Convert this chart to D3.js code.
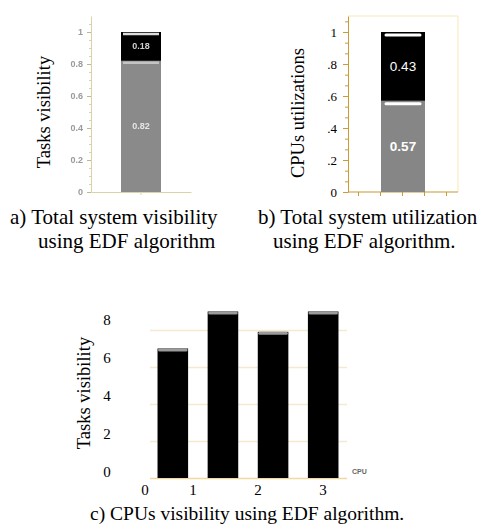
<!DOCTYPE html>
<html>
<head>
<meta charset="utf-8">
<script src="https://cdn.jsdelivr.net/npm/d3@7"></script>
<style>
    body { margin: 0; background: #fff; }
    svg { display: block; }
    .serif { font-family: 'Liberation Serif', 'Times New Roman', Times, 'DejaVu Serif', serif; }
    .sans { font-family: 'Liberation Sans', Arial, Helvetica, sans-serif; }
</style>
</head>
<body>
<svg id="chart" width="483" height="528"></svg>
<script>
// a) total system visibility (stacked, bottom to top)
const visKeys = ['visible', 'hidden'];
const visValues = [0.82, 0.18];
const visLabels = ['0.82', '0.18'];
const visTicks = [0, 0.2, 0.4, 0.6, 0.8, 1];
const visTickLabels = ['0', '0.2', '0.4', '0.6', '0.8', '1'];

// b) total system utilization (stacked, bottom to top)
const utilKeys = ['busy', 'idle'];
const utilValues = [0.57, 0.43];
const utilLabels = ['0.57', '0.43'];
const utilTicks = [0, 0.2, 0.4, 0.6, 0.8, 1];
const utilTickLabels = ['0', '.2', '.4', '.6', '.8', '1'];

// c) visibility per CPU
const cpus = ['cpu1', 'cpu2', 'cpu3', 'cpu4'];
const cpuVisibility = [7.0, 9.0, 7.9, 9.0];
const cpuTicks = [0, 2, 4, 6, 8];
const cpuXLabels = [0, 1, 2, 3];

const svg = d3.select('#chart');
svg.append('defs').append('filter')
    .attr('id', 'soft')
    .append('feGaussianBlur')
    .attr('stdDeviation', 0.55);

// cumulative stack helper
const stackOf = values => {
    const ends = Array.from(d3.cumsum(values));
    return values.map((v, i) => ({start: ends[i] - v, end: ends[i], i}));
};

//----- chart a -----
function drawA() {
    const g = svg.append('g').attr('filter', 'url(#soft)');
    const x = d3.scaleBand().domain(['EDF']).range([91, 191]).paddingInner(0).paddingOuter(0.75);
    const y = d3.scaleLinear().domain([0, 1.1]).range([192, 16]);
    const axisColor = '#d9d3a9';

    // minor ticks
    g.append('g')
        .attr('transform', 'translate(91,0)')
        .call(d3.axisLeft(y).tickValues(d3.range(0, 1.1, 0.05)).tickSize(2).tickSizeOuter(0).tickFormat(''))
        .call(a => a.selectAll('line,path').attr('stroke', axisColor));
    g.append('g')
        .attr('transform', 'translate(91,0)')
        .call(d3.axisLeft(y).tickValues(visTicks).tickSize(4).tickSizeOuter(0)
            .tickFormat((d, i) => visTickLabels[i]))
        .call(a => a.select('.domain').remove())
        .call(a => a.selectAll('line').attr('stroke', '#bdb88f'))
        .call(a => a.selectAll('text').attr('fill', '#9a9a9a').attr('font-family', null).attr('class', 'sans')
            .attr('font-size', 9).attr('font-weight', 'bold').attr('x', -8));
    g.append('g')
        .attr('transform', `translate(0,${y(0)})`)
        .call(d3.axisBottom(x).tickSize(3).tickSizeOuter(0).tickFormat(''))
        .call(a => a.selectAll('line,path').attr('stroke', axisColor));

    const colors = ['#8a8a8a', '#000'];
    const stripes = ['#c4c4c4', '#dcdcdc'];
    const segs = stackOf(visValues);
    g.selectAll('rect.seg').data(segs).enter().append('rect')
        .attr('class', 'seg')
        .attr('x', x('EDF'))
        .attr('y', d => y(d.end))
        .attr('width', x.bandwidth())
        .attr('height', d => y(d.start) - y(d.end))
        .attr('fill', d => colors[d.i]);
    g.selectAll('line.stripe').data(segs).enter().append('line')
        .attr('x1', x('EDF') + 2)
        .attr('x2', x('EDF') + x.bandwidth() - 2)
        .attr('y1', d => y(d.end) + 2)
        .attr('y2', d => y(d.end) + 2)
        .attr('stroke', d => stripes[d.i])
        .attr('stroke-width', 2.5);
    g.selectAll('text.val').data(segs).enter().append('text')
        .attr('class', 'sans')
        .attr('x', x('EDF') + x.bandwidth() / 2)
        .attr('y', d => y((d.start + d.end) / 2) + 3)
        .attr('text-anchor', 'middle')
        .attr('font-size', 9)
        .attr('font-weight', 'bold')
        .attr('fill', d => d.i === 0 ? '#e6e6e6' : '#d0d0d0')
        .text(d => visLabels[d.i]);

    svg.append('text')
        .attr('class', 'serif')
        .attr('transform', 'translate(50,112) rotate(-90)')
        .attr('text-anchor', 'middle')
        .attr('font-size', 18.5)
        .text('Tasks visibility');
}

//----- chart b -----
function drawB() {
    const g = svg.append('g');
    const x = d3.scaleBand().domain(['EDF']).range([348, 458]).paddingInner(0).paddingOuter(0.75);
    const y = d3.scaleLinear().domain([0, 1.1]).range([192, 16]);
    const axisColor = '#c99a36';

    // light frame
    g.append('path')
        .attr('d', `M${x.range()[0]},${y(1.1)}H${x.range()[1]}V${y(0)}`)
        .attr('fill', 'none')
        .attr('stroke', '#f6e9b8');

    g.append('g')
        .attr('transform', `translate(${x.range()[0]},0)`)
        .call(d3.axisLeft(y).tickValues(d3.range(0, 1.1, 0.2 / 3)).tickSize(3).tickSizeOuter(0).tickFormat(''))
        .call(a => a.selectAll('line,path').attr('stroke', axisColor));
    g.append('g')
        .attr('transform', `translate(${x.range()[0]},0)`)
        .call(d3.axisLeft(y).tickValues(utilTicks).tickSize(5).tickSizeOuter(0)
            .tickFormat((d, i) => utilTickLabels[i]))
        .call(a => a.select('.domain').remove())
        .call(a => a.selectAll('line').attr('stroke', axisColor))
        .call(a => a.selectAll('text').attr('fill', '#000').attr('font-family', null).attr('class', 'serif')
            .attr('font-size', 13).attr('x', -11));

    // baseline with small ticks
    const xt = d3.scaleLinear().domain([0, 5]).range([336, 446]);
    g.append('line')
        .attr('x1', x.range()[0]).attr('x2', x.range()[1])
        .attr('y1', y(0)).attr('y2', y(0))
        .attr('stroke', axisColor).attr('stroke-width', 1.2);
    g.append('g')
        .attr('transform', `translate(0,${y(0)})`)
        .call(d3.axisBottom(xt).tickValues([1, 2, 3, 4, 5]).tickSize(4).tickFormat(''))
        .call(a => a.select('.domain').remove())
        .call(a => a.selectAll('line').attr('stroke', axisColor));

    const colors = ['#868686', '#000'];
    const segs = stackOf(utilValues);
    g.selectAll('rect.seg').data(segs).enter().append('rect')
        .attr('x', x('EDF'))
        .attr('y', d => y(d.end))
        .attr('width', x.bandwidth())
        .attr('height', d => y(d.start) - y(d.end))
        .attr('fill', d => colors[d.i]);
    g.selectAll('line.stripe').data(segs).enter().append('line')
        .attr('x1', x('EDF') + 5)
        .attr('x2', x('EDF') + x.bandwidth() - 5)
        .attr('y1', d => y(d.end) + 3)
        .attr('y2', d => y(d.end) + 3)
        .attr('stroke', '#fff')
        .attr('stroke-width', 3)
        .attr('stroke-linecap', 'round');
    g.selectAll('text.val').data(segs).enter().append('text')
        .attr('class', 'sans')
        .attr('x', x('EDF') + x.bandwidth() / 2)
        .attr('y', d => y((d.start + d.end) / 2) + 5)
        .attr('text-anchor', 'middle')
        .attr('font-size', 13.5)
        .attr('font-weight', d => d.i === 0 ? 'bold' : 'normal')
        .attr('fill', '#fff')
        .text(d => utilLabels[d.i]);

    svg.append('text')
        .attr('class', 'serif')
        .attr('transform', 'translate(304,113) rotate(-90)')
        .attr('text-anchor', 'middle')
        .attr('font-size', 18.5)
        .text('CPUs utilizations');
}

//----- chart c -----
function drawC() {
    const g = svg.append('g');
    const x = d3.scaleBand().domain(cpus).range([149, 347]).paddingInner(0.39).paddingOuter(0.17);
    const y = d3.scaleLinear().domain([0, 8]).range([478, 330]);
    const yText = d3.scaleLinear().domain([0, 8]).range([477, 325]);
    const xText = d3.scaleLinear().domain([0, 1, 3]).range([145, 193, 323]);

    g.append('g')
        .attr('transform', 'translate(150,0)')
        .call(d3.axisLeft(y).tickValues(cpuTicks).tickSize(-197).tickFormat(''))
        .call(a => a.select('.domain').remove())
        .call(a => a.selectAll('line').attr('stroke', d => d === 0 ? '#efd9a0' : '#f4ead0').attr('stroke-width', 1.5));

    g.selectAll('text.ytick').data(cpuTicks).enter().append('text')
        .attr('class', 'serif')
        .attr('x', 107)
        .attr('y', d => yText(d))
        .attr('text-anchor', 'middle')
        .attr('font-size', 15)
        .text(d => d);

    g.selectAll('text.xtick').data(cpuXLabels).enter().append('text')
        .attr('class', 'serif')
        .attr('x', d => xText(d))
        .attr('y', 495)
        .attr('text-anchor', 'middle')
        .attr('font-size', 15)
        .text(d => d);

    const bars = g.selectAll('g.bar').data(cpus).enter().append('g');
    bars.append('rect')
        .attr('x', d => x(d))
        .attr('y', (d, i) => y(cpuVisibility[i]))
        .attr('width', x.bandwidth())
        .attr('height', (d, i) => y(0) - y(cpuVisibility[i]))
        .attr('fill', '#000');
    bars.append('rect')
        .attr('x', d => x(d) + 0.5)
        .attr('y', (d, i) => y(cpuVisibility[i]))
        .attr('width', x.bandwidth() - 1)
        .attr('height', 3)
        .attr('rx', 1.5)
        .attr('fill', '#9a9a9a');

    g.append('text')
        .attr('class', 'sans')
        .attr('x', 352)
        .attr('y', 474)
        .attr('font-size', 7)
        .attr('font-weight', 'bold')
        .attr('fill', '#666')
        .text('CPU');

    svg.append('text')
        .attr('class', 'serif')
        .attr('transform', 'translate(90,393) rotate(-90)')
        .attr('text-anchor', 'middle')
        .attr('font-size', 18.5)
        .text('Tasks visibility');
}

//----- captions -----
const captions = [
    {lines: ['a) Total system visibility', 'using EDF algorithm'], x: [10, 38], y: [224, 248], size: 21},
    {lines: ['b) Total system utilization', 'using EDF algorithm.'], x: [258, 273], y: [224, 248], size: 21},
    {lines: ['c) CPUs visibility using EDF algorithm.'], x: [90], y: [520], size: 19.5}
];

drawA();
drawB();
drawC();

captions.forEach(c => {
    c.lines.forEach((line, i) => {
        svg.append('text')
            .attr('class', 'serif')
            .attr('x', c.x[i])
            .attr('y', c.y[i])
            .attr('font-size', c.size)
            .text(line);
    });
});
</script>
</body>
</html>
